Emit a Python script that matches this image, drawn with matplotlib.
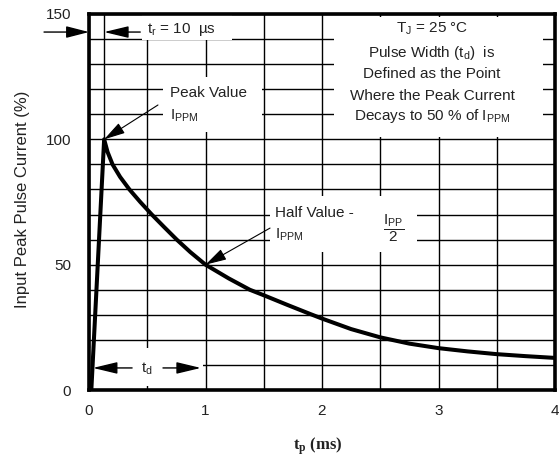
import matplotlib
matplotlib.use("Agg")
import matplotlib.pyplot as plt
from matplotlib.patches import Rectangle
from matplotlib.ticker import MultipleLocator

plt.rcParams['font.family'] = ['Liberation Sans', 'DejaVu Sans']
plt.rcParams['mathtext.fontset'] = 'custom'
plt.rcParams['mathtext.rm'] = 'Liberation Sans'
plt.rcParams['mathtext.it'] = 'Liberation Sans'
plt.rcParams['mathtext.bf'] = 'Liberation Serif:bold'
plt.rcParams['mathtext.default'] = 'rm'

# ---- data ----
time_ms = [0.02, 0.13, 0.159, 0.202, 0.267, 0.347, 0.44, 0.539, 0.645, 0.753,
           0.87, 1.00, 1.20, 1.38, 1.50, 1.70, 1.90, 2.00, 2.25, 2.50, 2.75,
           3.00, 3.25, 3.50, 3.75, 4.00]
current_pct = [0, 100, 95, 90, 85, 80, 75, 70, 65, 60,
               55, 50, 44.5, 40, 37.8, 34, 30.3, 28.5, 24.3, 21, 18.5,
               16.7, 15.4, 14.3, 13.5, 12.8]
x_ticks = [0, 1, 2, 3, 4]
y_ticks = [0, 50, 100, 150]
peak_t = 0.13
peak_val = 100
half_t = 1.0
half_val = 50

fig = plt.figure(figsize=(5.6, 4.61), dpi=100)
ax = fig.add_axes([89/560, 71/461, 466/560, 376/461])
ax.set_xlim(0, 4)
ax.set_ylim(0, 150)
ax.set_xticks(x_ticks)
ax.set_yticks(y_ticks)
ax.xaxis.set_minor_locator(MultipleLocator(0.5))
ax.yaxis.set_minor_locator(MultipleLocator(10))
ax.set_axisbelow(True)
ax.grid(which='both', color='black', lw=1.0)
ax.tick_params(which='both', length=0)
ax.tick_params(axis='y', pad=13, labelsize=11, labelcolor='#222222')
ax.tick_params(axis='x', pad=10, labelsize=11, labelcolor='#222222')
for s in ax.spines.values():
    s.set_linewidth(2.6)
    s.set_zorder(5)

# white label backgrounds that interrupt the grid
boxes = [(0.455, 139.5, 1.227 - 0.455, 10.5),
         (0.635, 103.0, 1.485 - 0.635, 22.0),
         (1.554, 55.0, 2.815 - 1.554, 22.5),
         (0.01, 1.4, 0.975 - 0.01, 15.2),
         (2.103, 101.0, 3.897 - 2.103, 47.8)]
for (bx, by, bw, bh) in boxes:
    ax.add_patch(Rectangle((bx, by), bw, bh, facecolor='white', edgecolor='none', zorder=1))

# rise-time marker line
ax.plot([peak_t, peak_t], [peak_val, 150], color='black', lw=1.0, zorder=0.8)

# curve
ax.plot(time_ms, current_pct, color='black', lw=2.9, zorder=3,
        solid_joinstyle='round', solid_capstyle='round')

fs = 11
tc = '#222222'
# tr label and arrows
ax.text(0.50, 142.4, r'$t_r$ = 10  µs', fontsize=fs, color=tc, ha='left', va='baseline', zorder=4)
ax.annotate('', xy=(peak_t, 142.8), xytext=(0.44, 142.8),
            arrowprops=dict(arrowstyle='-|>,head_length=0.75,head_width=0.18',
                            mutation_scale=20, lw=1.0, color='black',
                            shrinkA=0, shrinkB=0), zorder=4)
ax.annotate('', xy=(0, 142.8), xytext=(-0.386, 142.8), annotation_clip=False,
            arrowprops=dict(arrowstyle='-|>,head_length=0.7,head_width=0.18',
                            mutation_scale=20, lw=1.0, color='black',
                            shrinkA=0, shrinkB=0), zorder=4)

# conditions text
cx = 2.944
lines = [(r'$T_J$ = 25 °C', 142.4),
         (r'Pulse Width ($t_d$)  is', 133.0),
         ('Defined as the Point', 124.3),
         ('Where the Peak Current', 115.7),
         (r'Decays to 50 % of $I_{PPM}$', 107.7)]
for txt, yy in lines:
    ax.text(cx, yy, txt, fontsize=fs, color=tc, ha='center', va='baseline', zorder=4)

# peak value
ax.text(0.695, 116.9, 'Peak Value', fontsize=fs, color=tc, ha='left', va='baseline', zorder=4)
ax.text(0.695, 107.7, r'$I_{PPM}$', fontsize=fs, color=tc, ha='left', va='baseline', zorder=4)
ax.annotate('', xy=(peak_t, peak_val), xytext=(0.592, 113.7),
            arrowprops=dict(arrowstyle='-|>,head_length=0.65,head_width=0.18',
                            mutation_scale=20, lw=0.8, color='black',
                            shrinkA=0, shrinkB=0), zorder=4)

# half value
ax.text(1.597, 69.0, 'Half Value -', fontsize=fs, color=tc, ha='left', va='baseline', zorder=4)
ax.text(1.597, 60.2, r'$I_{PPM}$', fontsize=fs, color=tc, ha='left', va='baseline', zorder=4)
ax.text(2.618, 64.6, r'$\dfrac{I_{PP}}{2}$', fontsize=fs, color=tc, ha='center', va='center', zorder=4)
ax.annotate('', xy=(half_t, half_val), xytext=(1.554, 64.6),
            arrowprops=dict(arrowstyle='-|>,head_length=0.65,head_width=0.18',
                            mutation_scale=20, lw=0.8, color='black',
                            shrinkA=0, shrinkB=0), zorder=4)

# td label and arrows
ax.text(0.497, 6.8, r'$t_d$', fontsize=fs, color=tc, ha='center', va='baseline', zorder=4)
ax.annotate('', xy=(0.034, 8.8), xytext=(0.37, 8.8),
            arrowprops=dict(arrowstyle='-|>,head_length=0.75,head_width=0.18',
                            mutation_scale=20, lw=1.0, color='black',
                            shrinkA=0, shrinkB=0), zorder=4)
ax.annotate('', xy=(0.96, 8.8), xytext=(0.635, 8.8),
            arrowprops=dict(arrowstyle='-|>,head_length=0.75,head_width=0.18',
                            mutation_scale=20, lw=1.0, color='black',
                            shrinkA=0, shrinkB=0), zorder=4)

fig.text(23/560, 1 - 199/461, 'Input Peak Pulse Current (%)', rotation=90,
         fontsize=12, color=tc, ha='center', va='center')
fig.text(318/560, 1 - 446/461, r'$\mathbf{t_p}$ (ms)', fontsize=12, color=tc,
         family='Liberation Serif', weight='bold', ha='center', va='center')

fig.savefig('out.png', dpi=100)
